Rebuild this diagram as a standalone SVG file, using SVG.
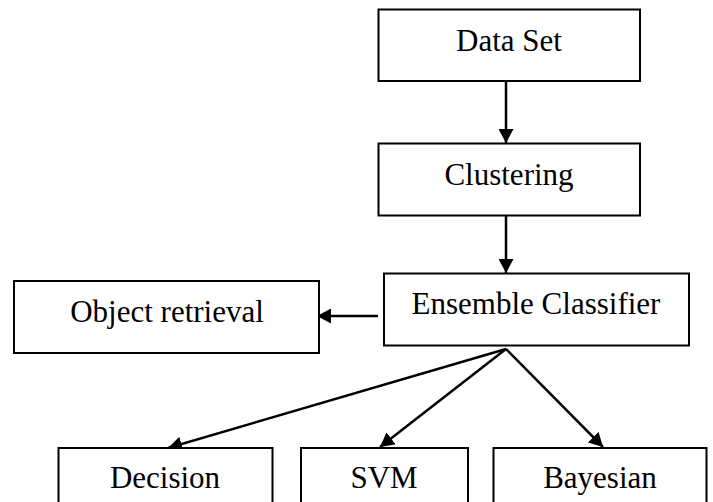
<svg xmlns="http://www.w3.org/2000/svg" width="713" height="502" viewBox="0 0 713 502">
<style>
.box{fill:#fff;stroke:#000;stroke-width:2}
.lbl{font-family:"Liberation Serif","Times New Roman",serif;font-size:31px;fill:#000;text-anchor:middle}
.edge{fill:none;stroke:#000;stroke-width:2.5}
</style>
<defs>
<marker id="arr" viewBox="0 0 14 15" refX="14" refY="7.5" markerWidth="14" markerHeight="15" markerUnits="userSpaceOnUse" orient="auto">
<path d="M0,0 L14,7.5 L0,15 Z" fill="#000"/>
</marker>
</defs>
<rect width="713" height="502" fill="#fff"/>
<g id="connectors">
<line class="edge" x1="506" y1="81" x2="506" y2="143" marker-end="url(#arr)"/>
<line class="edge" x1="506" y1="215.5" x2="506" y2="273" marker-end="url(#arr)"/>
<line class="edge" x1="378" y1="316" x2="317" y2="316" marker-end="url(#arr)"/>
<line class="edge" x1="506" y1="349" x2="168" y2="448" marker-end="url(#arr)"/>
<line class="edge" x1="506" y1="349" x2="380" y2="447" marker-end="url(#arr)"/>
<line class="edge" x1="506" y1="349" x2="603" y2="447" marker-end="url(#arr)"/>
</g>
<g id="dataset">
<rect class="box" x="378.5" y="9.5" width="261.5" height="71.5"/>
<text class="lbl" x="509" y="51">Data Set</text>
</g>
<g id="clustering">
<rect class="box" x="378.5" y="143.5" width="261.5" height="72"/>
<text class="lbl" x="509" y="185">Clustering</text>
</g>
<g id="ensemble">
<rect class="box" x="384" y="273.5" width="305" height="72"/>
<text class="lbl" x="536" y="314">Ensemble Classifier</text>
</g>
<g id="retrieval">
<rect class="box" x="14" y="281" width="305" height="72"/>
<text class="lbl" x="167" y="321.5">Object retrieval</text>
</g>
<g id="decision">
<rect class="box" x="58.5" y="448" width="214" height="70"/>
<text class="lbl" x="165" y="488">Decision</text>
</g>
<g id="svm">
<rect class="box" x="301" y="448" width="167" height="70"/>
<text class="lbl" x="384" y="488">SVM</text>
</g>
<g id="bayesian">
<rect class="box" x="493.5" y="448" width="213" height="70"/>
<text class="lbl" x="600" y="488">Bayesian</text>
</g>
</svg>
